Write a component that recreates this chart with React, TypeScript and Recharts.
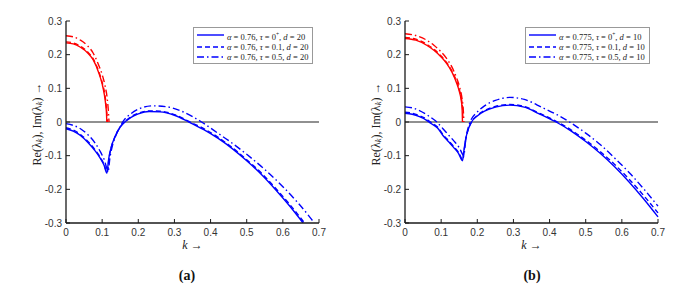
import { LineChart, Line, XAxis, YAxis, ReferenceLine, Legend } from "recharts";

// axis ticks
const kTicks = [0, 0.1, 0.2, 0.3, 0.4, 0.5, 0.6, 0.7];
const vTicks = [-0.3, -0.2, -0.1, 0, 0.1, 0.2, 0.3];

// legend: tau per series
const tauLabels = ["0+", "0.1", "0.5"];

// panel (a): alpha = 0.76, d = 20   -- [k, value]
const redSolidA = [[0, 0.235], [0.02, 0.232], [0.04, 0.222], [0.06, 0.205], [0.075, 0.185], [0.09, 0.148], [0.1, 0.113], [0.106, 0.082], [0.11, 0.05], [0.112, 0.026], [0.113, 0]];
const redDashA = [[0, 0.238], [0.02, 0.235], [0.04, 0.225], [0.06, 0.208], [0.075, 0.188], [0.09, 0.152], [0.1, 0.118], [0.107, 0.085], [0.111, 0.052], [0.113, 0.028], [0.1145, 0]];
const redDotA = [[0, 0.256], [0.02, 0.253], [0.04, 0.243], [0.06, 0.226], [0.075, 0.205], [0.09, 0.17], [0.1, 0.141], [0.108, 0.108], [0.114, 0.07], [0.117, 0.036], [0.119, 0]];
const blueSolidA = [[0, -0.02], [0.02, -0.027], [0.04, -0.04], [0.06, -0.06], [0.08, -0.085], [0.095, -0.108], [0.105, -0.128], [0.113, -0.152], [0.118, -0.11], [0.125, -0.075], [0.135, -0.045], [0.15, -0.015], [0.165, 0.002], [0.18, 0.014], [0.2, 0.024], [0.23, 0.031], [0.26, 0.03], [0.3, 0.02], [0.34, 0], [0.38, -0.022], [0.42, -0.048], [0.46, -0.079], [0.5, -0.115], [0.54, -0.155], [0.58, -0.201], [0.62, -0.251], [0.656, -0.3]];
const blueDashA = [[0, -0.017], [0.02, -0.024], [0.04, -0.037], [0.06, -0.057], [0.08, -0.082], [0.095, -0.105], [0.105, -0.125], [0.114, -0.15], [0.119, -0.108], [0.126, -0.073], [0.136, -0.043], [0.15, -0.014], [0.165, 0.003], [0.18, 0.016], [0.2, 0.026], [0.23, 0.033], [0.26, 0.032], [0.3, 0.022], [0.343, 0], [0.38, -0.019], [0.42, -0.045], [0.46, -0.076], [0.5, -0.112], [0.54, -0.151], [0.58, -0.197], [0.62, -0.246], [0.66, -0.3]];
const blueDotA = [[0, -0.005], [0.02, -0.01], [0.04, -0.02], [0.06, -0.037], [0.08, -0.062], [0.095, -0.088], [0.105, -0.11], [0.117, -0.145], [0.121, -0.11], [0.128, -0.072], [0.138, -0.04], [0.15, -0.012], [0.16, 0.005], [0.18, 0.025], [0.2, 0.038], [0.24, 0.048], [0.28, 0.045], [0.32, 0.032], [0.375, 0], [0.42, -0.033], [0.46, -0.063], [0.5, -0.096], [0.55, -0.141], [0.6, -0.192], [0.64, -0.238], [0.68, -0.29], [0.687, -0.3]];

// panel (b): alpha = 0.775, d = 10
const redSolidB = [[0, 0.248], [0.03, 0.243], [0.06, 0.228], [0.08, 0.213], [0.1, 0.193], [0.115, 0.174], [0.13, 0.148], [0.143, 0.115], [0.15, 0.092], [0.155, 0.068], [0.158, 0.04], [0.159, 0]];
const redDashB = [[0, 0.251], [0.03, 0.246], [0.06, 0.231], [0.08, 0.216], [0.1, 0.196], [0.115, 0.177], [0.13, 0.151], [0.144, 0.117], [0.151, 0.094], [0.156, 0.07], [0.159, 0.042], [0.1605, 0]];
const redDotB = [[0, 0.262], [0.03, 0.257], [0.06, 0.243], [0.08, 0.228], [0.1, 0.208], [0.115, 0.189], [0.13, 0.163], [0.143, 0.13], [0.152, 0.1], [0.158, 0.068], [0.161, 0.04], [0.163, 0]];
const blueSolidB = [[0, 0.026], [0.02, 0.023], [0.04, 0.016], [0.06, 0.005], [0.07, -0.003], [0.09, -0.018], [0.105, -0.04], [0.12, -0.058], [0.135, -0.076], [0.148, -0.093], [0.159, -0.115], [0.163, -0.085], [0.168, -0.05], [0.175, -0.022], [0.184, 0], [0.2, 0.018], [0.22, 0.032], [0.25, 0.044], [0.29, 0.05], [0.33, 0.044], [0.37, 0.025], [0.418, 0], [0.46, -0.027], [0.5, -0.058], [0.54, -0.093], [0.58, -0.133], [0.62, -0.178], [0.66, -0.228], [0.7, -0.282]];
const blueDashB = [[0, 0.029], [0.02, 0.026], [0.04, 0.019], [0.06, 0.008], [0.072, -0.001], [0.09, -0.015], [0.105, -0.037], [0.12, -0.055], [0.135, -0.073], [0.148, -0.09], [0.16, -0.112], [0.164, -0.082], [0.169, -0.047], [0.176, -0.019], [0.185, 0.002], [0.2, 0.02], [0.22, 0.034], [0.25, 0.046], [0.29, 0.052], [0.33, 0.046], [0.37, 0.027], [0.422, 0], [0.46, -0.024], [0.5, -0.054], [0.54, -0.088], [0.58, -0.126], [0.62, -0.17], [0.66, -0.218], [0.7, -0.27]];
const blueDotB = [[0, 0.045], [0.02, 0.042], [0.04, 0.034], [0.06, 0.022], [0.075, 0.011], [0.088, 0], [0.105, -0.02], [0.12, -0.038], [0.135, -0.056], [0.15, -0.076], [0.163, -0.1], [0.166, -0.07], [0.17, -0.04], [0.176, -0.012], [0.182, 0.005], [0.2, 0.03], [0.22, 0.048], [0.25, 0.064], [0.29, 0.073], [0.33, 0.067], [0.38, 0.043], [0.42, 0.022], [0.455, 0], [0.5, -0.033], [0.54, -0.067], [0.58, -0.107], [0.62, -0.15], [0.66, -0.198], [0.7, -0.25]];

const dashes = ["", "5 3", "7 3 1.5 3"];
const BLUE = "#0000ff";
const RED = "#ff0000";
const AXIS = "#1a1a1a";

const toRows = (pts: number[][]) => pts.map(([k, v]) => ({ k, v }));

function LegendBox({ alpha, d }: { alpha: string; d: string }) {
  return (
    <div
      style={{
        border: "1px solid #999",
        background: "#fff",
        padding: "1px 4px 1px 3px",
        fontFamily: "'Liberation Serif', serif",
        fontSize: 8.5,
        lineHeight: "10px",
        color: "#222",
        whiteSpace: "nowrap",
      }}
    >
      {tauLabels.map((tau, i) => (
        <div key={i} style={{ display: "flex", alignItems: "center" }}>
          <svg width={27} height={10} style={{ marginRight: 3 }}>
            <line x1={0} y1={5} x2={27} y2={5} stroke={BLUE} strokeWidth={1.4} strokeDasharray={dashes[i]} />
          </svg>
          <span>
            <i>α</i> = {alpha}, <i>τ</i> = {tau === "0+" ? <>0<sup style={{ fontSize: 5.5 }}>+</sup></> : tau}, <i>d</i> = {d}
          </span>
        </div>
      ))}
    </div>
  );
}

interface PanelProps {
  reds: number[][][];
  blues: number[][][];
  alpha: string;
  d: string;
  caption: string;
  captionX: number;
  legendLeft: number;
}

function Panel({ reds, blues, alpha, d, caption, captionX, legendLeft }: PanelProps) {
  return (
    <LineChart width={340} height={289} margin={{ top: 21, right: 21, bottom: 46, left: 36 }}>
      <XAxis
        type="number"
        dataKey="k"
        domain={[0, 0.7]}
        ticks={kTicks}
        height={20}
        tickSize={-4}
        tickMargin={10}
        axisLine={{ stroke: AXIS, strokeWidth: 1.3 }}
        tickLine={{ stroke: AXIS }}
        tick={{ fill: "#333", fontSize: 10, fontFamily: "'Liberation Sans', Arial, sans-serif" }}
        label={{
          content: () => (
            <g>
              <text x={192.5} y={249} textAnchor="middle" fontFamily="'Liberation Serif', serif" fontSize={12} fill="#222">
                <tspan fontStyle="italic">k</tspan> →
              </text>
              <text x={captionX} y={280} textAnchor="middle" fontFamily="'Liberation Serif', serif" fontWeight="bold" fontSize={14} fill="#111">
                {caption}
              </text>
            </g>
          ),
        }}
      />
      <XAxis xAxisId="top" type="number" orientation="top" domain={[0, 0.7]} height={0} tick={false} tickLine={false} axisLine={{ stroke: AXIS, strokeWidth: 1.3 }} />
      <YAxis
        type="number"
        domain={[-0.3, 0.3]}
        ticks={vTicks}
        width={30}
        allowDataOverflow
        tickSize={-4}
        tickMargin={8}
        axisLine={{ stroke: AXIS, strokeWidth: 1.3 }}
        tickLine={{ stroke: AXIS }}
        tick={{ fill: "#333", fontSize: 10, fontFamily: "'Liberation Sans', Arial, sans-serif" }}
        label={{
          content: () => (
            <text
              x={38}
              y={124}
              transform="rotate(-90, 38, 124)"
              textAnchor="middle"
              dominantBaseline="middle"
              fontFamily="'Liberation Serif', serif"
              fontSize={12}
              fill="#222"
            >
              Re(λ<tspan fontStyle="italic" fontSize={8.5} dy={2}>k</tspan>
              <tspan dy={-2}>), Im(λ</tspan>
              <tspan fontStyle="italic" fontSize={8.5} dy={2}>k</tspan>
              <tspan dy={-2}>) →</tspan>
            </text>
          ),
        }}
      />
      <YAxis yAxisId="right" orientation="right" type="number" domain={[-0.3, 0.3]} width={0} tick={false} tickLine={false} axisLine={{ stroke: AXIS, strokeWidth: 1.3 }} />
      <ReferenceLine y={0} stroke="#222" strokeWidth={1.2} />
      {reds.map((pts, i) => (
        <Line
          key={"r" + i}
          data={toRows(pts)}
          dataKey="v"
          type="monotone"
          dot={false}
          stroke={RED}
          strokeWidth={1.4}
          strokeDasharray={dashes[i]}
          isAnimationActive={false}
          legendType="none"
        />
      ))}
      {blues.map((pts, i) => (
        <Line
          key={"b" + i}
          data={toRows(pts)}
          dataKey="v"
          type="monotone"
          dot={false}
          stroke={BLUE}
          strokeWidth={1.4}
          strokeDasharray={dashes[i]}
          isAnimationActive={false}
        />
      ))}
      <Legend
        layout="horizontal"
        verticalAlign="middle"
        align="center"
        content={() => <LegendBox alpha={alpha} d={d} />}
        wrapperStyle={{ left: legendLeft, top: 27, width: "auto", height: "auto" }}
      />
    </LineChart>
  );
}

export default function App() {
  return (
    <div style={{ position: "absolute", left: 0, top: 0, width: 697, height: 289, background: "#fff" }}>
      <div style={{ position: "absolute", left: 0, top: 0 }}>
        <Panel
          reds={[redSolidA, redDashA, redDotA]}
          blues={[blueSolidA, blueDashA, blueDotA]}
          alpha="0.76"
          d="20"
          caption="(a)"
          captionX={187}
          legendLeft={193}
        />
      </div>
      <div style={{ position: "absolute", left: 339, top: 0 }}>
        <Panel
          reds={[redSolidB, redDashB, redDotB]}
          blues={[blueSolidB, blueDashB, blueDotB]}
          alpha="0.775"
          d="10"
          caption="(b)"
          captionX={193}
          legendLeft={186}
        />
      </div>
    </div>
  );
}
